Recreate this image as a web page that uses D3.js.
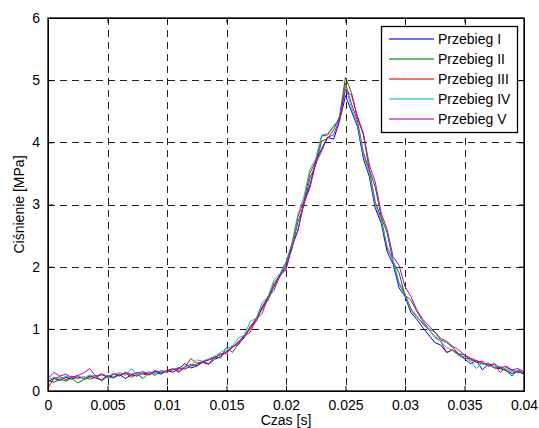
<!DOCTYPE html>
<html>
<head>
<meta charset="utf-8">
<script src="https://cdn.jsdelivr.net/npm/d3@7"></script>
<style>
  body { margin: 0; background: #fff; }
  svg text { font-family: "Liberation Sans", Arial, Helvetica, sans-serif; }
</style>
</head>
<body>
<div id="chart"></div>
<script>
// time samples in ms
const czasMs = [0,0.5,1,1.5,2,2.5,3,3.5,4,4.5,5,5.5,6,6.5,7,7.5,8,8.5,9,9.5,
  10,10.5,11,11.5,12,12.5,13,13.5,14,14.5,15,15.5,16,16.5,17,17.5,18,18.5,19,19.5,
  20,20.5,21,21.5,22,22.5,23,23.5,24,24.5,25,25.5,26,26.5,27,27.5,28,28.5,29,29.5,
  30,30.5,31,31.5,32,32.5,33,33.5,34,34.5,35,35.5,36,36.5,37,37.5,38,38.5,39,39.5,40];

// pressure [MPa]
const przebiegI = [0.15,0.20,0.17,0.22,0.19,0.23,0.20,0.24,0.21,0.18,
  0.25,0.22,0.27,0.20,0.26,0.24,0.29,0.26,0.31,0.27,
  0.33,0.30,0.36,0.44,0.37,0.40,0.46,0.43,0.51,0.55,
  0.64,0.70,0.78,0.90,1.00,1.17,1.32,1.52,1.68,1.88,
  1.97,2.34,2.58,3.04,3.30,3.70,3.90,4.08,4.05,4.34,
  4.75,4.50,4.26,3.74,3.45,2.94,2.70,2.24,2.04,1.66,
  1.52,1.26,1.15,1.02,0.90,0.78,0.74,0.62,0.66,0.58,
  0.52,0.44,0.49,0.34,0.43,0.37,0.36,0.33,0.28,0.32,0.27];
const przebiegII = [0.17,0.14,0.19,0.16,0.21,0.13,0.18,0.22,0.25,0.16,
  0.23,0.21,0.26,0.29,0.22,0.27,0.20,0.30,0.25,0.33,
  0.31,0.35,0.32,0.39,0.43,0.41,0.47,0.50,0.55,0.53,
  0.70,0.62,0.76,0.86,1.02,1.12,1.34,1.46,1.70,1.84,
  2.02,2.28,2.72,2.98,3.42,3.64,4.02,4.06,4.20,4.42,
  5.05,4.80,4.40,4.12,3.56,3.28,2.80,2.54,2.08,1.90,
  1.54,1.46,1.28,1.12,1.00,0.95,0.82,0.78,0.70,0.60,
  0.58,0.50,0.48,0.43,0.45,0.38,0.38,0.33,0.24,0.34,0.28];
const przebiegIII = [0.05,0.20,0.23,0.18,0.24,0.20,0.23,0.19,0.22,0.26,
  0.23,0.27,0.24,0.28,0.25,0.30,0.27,0.26,0.32,0.29,
  0.33,0.36,0.30,0.38,0.52,0.45,0.47,0.44,0.54,0.58,
  0.62,0.70,0.80,0.87,1.04,1.16,1.36,1.51,1.74,1.86,
  2.06,2.36,2.80,3.05,3.50,3.70,4.10,4.12,4.26,4.38,
  4.95,4.62,4.36,3.84,3.56,3.04,2.78,2.30,2.10,1.74,
  1.56,1.32,1.20,1.08,0.98,0.88,0.80,0.62,0.66,0.60,
  0.53,0.52,0.46,0.48,0.40,0.43,0.30,0.38,0.33,0.30,0.29];
const przebiegIV = [0.18,0.22,0.19,0.24,0.21,0.25,0.20,0.26,0.23,0.28,
  0.24,0.26,0.30,0.25,0.36,0.26,0.29,0.31,0.28,0.33,
  0.30,0.35,0.38,0.36,0.41,0.50,0.48,0.52,0.56,0.62,
  0.68,0.72,0.85,0.90,1.12,1.17,1.42,1.52,1.79,1.89,
  2.08,2.38,2.84,3.12,3.56,3.74,4.12,4.14,4.26,4.36,
  4.90,4.56,4.30,3.80,3.50,3.00,2.74,2.33,2.09,1.72,
  1.54,1.30,1.18,1.10,1.00,0.86,0.80,0.70,0.65,0.57,
  0.55,0.48,0.36,0.46,0.41,0.38,0.40,0.35,0.31,0.33,0.30];
const przebiegV = [0.20,0.30,0.24,0.27,0.22,0.25,0.29,0.36,0.24,0.27,
  0.22,0.28,0.25,0.30,0.27,0.29,0.31,0.27,0.33,0.30,
  0.31,0.34,0.37,0.35,0.40,0.43,0.47,0.50,0.53,0.60,
  0.60,0.72,0.74,0.88,0.95,1.15,1.25,1.51,1.62,1.87,
  1.95,2.32,2.58,3.02,3.26,3.66,3.86,4.08,4.12,4.38,
  4.85,4.76,4.42,4.15,3.64,3.36,2.86,2.60,2.16,2.02,
  1.68,1.52,1.30,1.15,1.05,0.95,0.85,0.80,0.72,0.66,
  0.58,0.53,0.49,0.45,0.41,0.44,0.37,0.40,0.34,0.36,0.31];

const nazwy = ["Przebieg I","Przebieg II","Przebieg III","Przebieg IV","Przebieg V"];
const kolory = ["#0000ff","#008000","#ff0000","#00bfbf","#bf00bf"];
const xTicks = [0,0.005,0.01,0.015,0.02,0.025,0.03,0.035,0.04];
const yTicks = [0,1,2,3,4,5,6];

const series = [przebiegI, przebiegII, przebiegIII, przebiegIV, przebiegV].map((vals, k) => ({
  name: nazwy[k],
  color: kolory[k],
  points: vals.map((v, i) => ({ t: czasMs[i] / 1000, p: v }))
}));

const width = 539, height = 428;
const margin = {top: 18, right: 15, bottom: 37, left: 48};
const fontSize = 14;

const svg = d3.select("#chart").append("svg")
    .attr("width", width)
    .attr("height", height);

const x = d3.scaleLinear().domain([0, 0.04]).range([margin.left, width - margin.right]);
const y = d3.scaleLinear().domain([0, 6]).range([height - margin.bottom, margin.top]);

//grid
const grid = svg.append("g").attr("shape-rendering","crispEdges");
grid.selectAll(".vgrid")
    .data(xTicks.slice(1, -1))
    .join("line")
    .attr("x1", d => Math.round(x(d)) + 0.5).attr("x2", d => Math.round(x(d)) + 0.5)
    .attr("y1", y(6)).attr("y2", y(0))
    .attr("stroke", "#222").attr("stroke-dasharray", "7,5");
grid.selectAll(".hgrid")
    .data(yTicks.slice(1, -1))
    .join("line")
    .attr("y1", d => Math.round(y(d)) + 0.5).attr("y2", d => Math.round(y(d)) + 0.5)
    .attr("x1", x(0)).attr("x2", x(0.04))
    .attr("stroke", "#222").attr("stroke-dasharray", "7,5");

//lines
const line = d3.line().x(d => x(d.t)).y(d => y(d.p));
svg.append("g").selectAll("path")
    .data(series)
    .join("path")
    .attr("d", d => line(d.points))
    .attr("fill", "none")
    .attr("stroke", d => d.color)
    .attr("stroke-width", 1)
    .attr("stroke-linejoin", "round");

//axes, MATLAB style ticks inside
const tickLen = 5;
const axB = svg.append("g").attr("transform", `translate(0,${y(0)})`)
    .call(d3.axisBottom(x).tickValues(xTicks).tickFormat(d3.format("")).tickSizeInner(-tickLen).tickSizeOuter(0).tickPadding(9));
const axT = svg.append("g").attr("transform", `translate(0,${y(6)})`)
    .call(d3.axisTop(x).tickValues(xTicks).tickFormat("").tickSizeInner(-tickLen).tickSizeOuter(0));
const axL = svg.append("g").attr("transform", `translate(${x(0)},0)`)
    .call(d3.axisLeft(y).tickValues(yTicks).tickFormat(d3.format("d")).tickSizeInner(-tickLen).tickSizeOuter(0).tickPadding(8));
const axR = svg.append("g").attr("transform", `translate(${x(0.04)},0)`)
    .call(d3.axisRight(y).tickValues(yTicks).tickFormat("").tickSizeInner(-tickLen).tickSizeOuter(0));

[axB, axT, axL, axR].forEach(a => {
  a.select(".domain").attr("stroke", "#000").attr("stroke-width", 1);
  a.selectAll(".tick line").attr("stroke", "#000");
  a.selectAll("text").attr("font-size", fontSize).attr("fill", "#000")
      .style("font-family", "'Liberation Sans', Arial, sans-serif");
});

svg.append("rect")
    .attr("x", x(0)).attr("y", y(6))
    .attr("width", x(0.04) - x(0)).attr("height", y(0) - y(6))
    .attr("fill", "none").attr("stroke", "#000").attr("stroke-width", 1.3);

//labels
svg.append("text")
    .text("Czas [s]")
    .attr("x", (x(0) + x(0.04)) / 2)
    .attr("y", 425)
    .attr("text-anchor", "middle")
    .attr("font-size", fontSize);

svg.append("text")
    .text("Ciśnienie [MPa]")
    .attr("transform", `translate(24,${(y(0) + y(6)) / 2}) rotate(-90)`)
    .attr("text-anchor", "middle")
    .attr("font-size", fontSize);

//legend
const legend = svg.append("g");
legend.append("rect")
    .attr("x", 381.5).attr("y", 26.5)
    .attr("width", 136).attr("height", 106)
    .attr("fill", "#fff").attr("stroke", "#000").attr("stroke-width", 1.3);

const rows = legend.selectAll(".leg")
    .data(series)
    .join("g")
    .attr("class", "leg")
    .attr("transform", (d, i) => `translate(0,${39 + i * 20})`);
rows.append("line")
    .attr("x1", 389).attr("x2", 434)
    .attr("stroke", d => d.color).attr("stroke-width", 1.5).attr("opacity", 0.75);
rows.append("text")
    .text(d => d.name)
    .attr("x", 438)
    .attr("dy", "0.35em")
    .attr("font-size", fontSize);
</script>
</body>
</html>
